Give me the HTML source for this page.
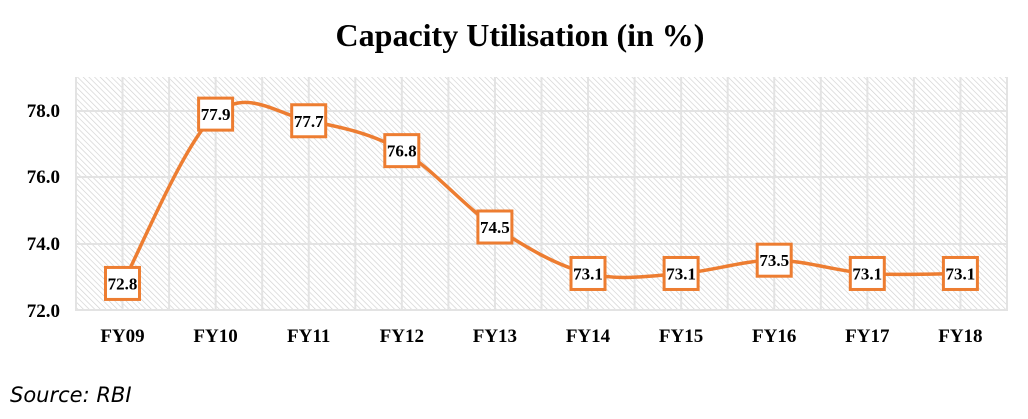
<!DOCTYPE html>
<html><head><meta charset="utf-8"><style>
body{margin:0;background:#fff;width:1028px;height:414px;overflow:hidden}
</style></head><body>
<svg width="1028" height="414" xmlns="http://www.w3.org/2000/svg">
<defs>
<pattern id="h" width="4" height="4" patternUnits="userSpaceOnUse" patternTransform="rotate(-45)">
<rect width="4" height="4" fill="#fff"/>
<line x1="0" y1="0" x2="0" y2="4" stroke="#d0d0d0" stroke-width="1.3"/>
</pattern>
</defs>
<text x="520" y="46" text-anchor="middle" font-family="Liberation Serif, serif" font-weight="bold" font-size="32">Capacity Utilisation (in %)</text>
<rect x="76" y="77" width="931" height="234" fill="url(#h)"/>
<g stroke="#e3e3e3" stroke-width="2">
<line x1="76" y1="111" x2="1007" y2="111"/>
<line x1="76" y1="177" x2="1007" y2="177"/>
<line x1="76" y1="244" x2="1007" y2="244"/>
<line x1="76" y1="310" x2="1007" y2="310"/>
</g>
<g stroke="#e3e3e3" stroke-width="2" id="vg"></g>
<g font-family="Liberation Serif, serif" font-weight="bold" font-size="19" text-anchor="end">
<text x="60" y="117">78.0</text><text x="60" y="183">76.0</text><text x="60" y="250">74.0</text><text x="60" y="317">72.0</text>
</g>
<g id="xl" font-family="Liberation Serif, serif" font-weight="bold" font-size="19" text-anchor="middle"></g>
<path id="ln" fill="none" stroke="#ED7D31" stroke-width="3.5"/>
<g id="bx"></g>
<text x="10" y="402" font-family="DejaVu Sans, sans-serif" font-style="italic" font-size="21">Source: RBI</text>
</svg>
<script>
var ns="http://www.w3.org/2000/svg";
var vals=[72.8,77.9,77.7,76.8,74.5,73.1,73.1,73.5,73.1,73.1];
var labs=["FY09","FY10","FY11","FY12","FY13","FY14","FY15","FY16","FY17","FY18"];
var vg=document.getElementById("vg");
for(var i=0;i<=20;i++){var x=76+i*46.55;var l=document.createElementNS(ns,"line");l.setAttribute("x1",x);l.setAttribute("x2",x);l.setAttribute("y1",77);l.setAttribute("y2",311);vg.appendChild(l);}
var P=vals.map(function(v,i){return [122.5+i*93.1,310-(v-72)*33.2];});
var xl=document.getElementById("xl");
labs.forEach(function(s,i){var t=document.createElementNS(ns,"text");t.setAttribute("x",P[i][0]);t.setAttribute("y",342);t.textContent=s;xl.appendChild(t);});
var d="M"+P[0][0]+","+P[0][1];
for(var i=0;i<P.length-1;i++){var p0=P[Math.max(0,i-1)],p1=P[i],p2=P[i+1],p3=P[Math.min(P.length-1,i+2)];var k=1/6;
d+=" C"+(p1[0]+(p2[0]-p0[0])*k)+","+(p1[1]+(p2[1]-p0[1])*k)+" "+(p2[0]-(p3[0]-p1[0])*k)+","+(p2[1]-(p3[1]-p1[1])*k)+" "+p2[0]+","+p2[1];}
document.getElementById("ln").setAttribute("d",d);
var bx=document.getElementById("bx");
P.forEach(function(p,i){var r=document.createElementNS(ns,"rect");r.setAttribute("x",p[0]-17);r.setAttribute("y",p[1]-16);r.setAttribute("width",34);r.setAttribute("height",32);r.setAttribute("fill","#fff");r.setAttribute("stroke","#ED7D31");r.setAttribute("stroke-width",3);bx.appendChild(r);
var t=document.createElementNS(ns,"text");t.setAttribute("x",p[0]);t.setAttribute("y",p[1]+6);t.setAttribute("text-anchor","middle");t.setAttribute("font-family","Liberation Serif, serif");t.setAttribute("font-weight","bold");t.setAttribute("font-size","17");t.textContent=vals[i].toFixed(1);bx.appendChild(t);});
</script>
</body></html>
